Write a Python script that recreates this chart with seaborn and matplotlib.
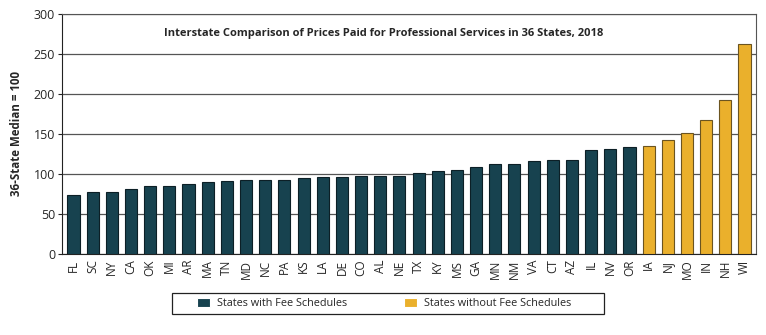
import matplotlib
matplotlib.use("Agg")
import matplotlib.pyplot as plt
from matplotlib.patches import Rectangle
import seaborn as sns
import pandas as pd

states = ["FL","SC","NY","CA","OK","MI","AR","MA","TN","MD","NC","PA","KS","LA","DE","CO",
          "AL","NE","TX","KY","MS","GA","MN","NM","VA","CT","AZ","IL","NV","OR",
          "IA","NJ","MO","IN","NH","WI"]
values = [74,77,78,81,85,85,88,90,91,92,92,93,95,96,96,97,
          98,98,101,104,105,109,112,113,116,117,117,130,131,134,
          135,143,151,168,193,263]
groups = ["States with Fee Schedules"]*30 + ["States without Fee Schedules"]*6
palette = {"States with Fee Schedules": "#17424F", "States without Fee Schedules": "#EAB02C"}
edges = {"States with Fee Schedules": "#0c1f26", "States without Fee Schedules": "#6b5420"}

df = pd.DataFrame({"state": states, "value": values, "group": groups})

sns.set_style("white")
plt.rcParams['font.family'] = ['Open Sans', 'DejaVu Sans']

fig = plt.figure(figsize=(7.66, 3.35), dpi=100)
ax = fig.add_axes([62/766, 1 - 254/335, (756-62)/766, (254-14)/335])
sns.barplot(data=df, x="state", y="value", hue="group", palette=palette, dodge=False,
            width=0.63, saturation=1, ax=ax, legend=True, zorder=3)
for cont, g in zip(ax.containers, ["States with Fee Schedules", "States without Fee Schedules"]):
    for bar in cont:
        bar.set_edgecolor(edges[g])
        bar.set_linewidth(0.8)

ax.set_ylim(0, 300)
ax.set_xlim(-0.6, 35.6)
ax.set_yticks(range(0, 301, 50))
ax.yaxis.grid(True, color="#555555", linewidth=0.9, zorder=0)
ax.set_axisbelow(True)
for s in ["top", "right"]:
    ax.spines[s].set_color("#555555")
ax.spines["left"].set_color("#222222")
ax.spines["bottom"].set_color("#222222")
ax.tick_params(axis="y", labelsize=9, length=3, left=True, color="#222222", pad=2)
ax.tick_params(axis="x", labelsize=8.5, rotation=90, length=0, pad=4)
ax.set_xlabel("")
ax.set_ylabel("36-State Median = 100", fontsize=8.3, fontweight="bold", labelpad=8)
ax.text((384-62)/694, 0.92, "Interstate Comparison of Prices Paid for Professional Services in 36 States, 2018",
        transform=ax.transAxes, ha="center", va="center", fontsize=8.0, fontweight="bold")

leg = ax.legend(loc="center", bbox_to_anchor=(384/766, 1 - 303.5/335), bbox_transform=fig.transFigure,
                ncol=2, frameon=False, fontsize=7.8, columnspacing=5.2,
                handlelength=1.2, handleheight=0.95, handletextpad=0.7, borderpad=0.3)
for h in leg.legend_handles:
    h.set_linewidth(0.8)
fig.patches.append(Rectangle((172/766, 1 - 314/335), (604-172)/766, 21.5/335,
                             transform=fig.transFigure, fill=False, edgecolor="#222222",
                             linewidth=0.9))

fig.savefig("out.png", dpi=100)
